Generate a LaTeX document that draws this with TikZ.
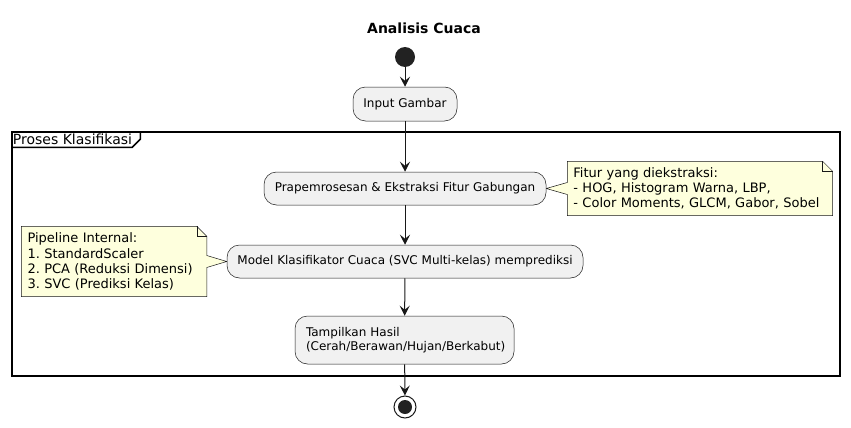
\documentclass[tikz,border=0pt]{standalone}
\usepackage{fontspec}
\setmainfont{DejaVu Sans}
\usepackage{tikz}
\usetikzlibrary{backgrounds}
\usetikzlibrary{arrows.meta}
\usetikzlibrary{positioning}
\definecolor{actfill}{HTML}{F1F1F1}
\definecolor{linecol}{HTML}{181818}
\definecolor{notefill}{HTML}{FEFFDD}
\definecolor{dotcol}{HTML}{222222}
\frenchspacing

\begin{document}
\begin{tikzpicture}[x=1pt, y=-1pt,
    act/.style={draw=linecol, line width=0.5pt, fill=actfill, rounded corners=12.5pt, inner sep=0pt, font=\fontsize{12}{14}\selectfont},
    notetext/.style={inner xsep=6pt, inner ysep=0pt, align=left, font=\fontsize{13}{15.1}\selectfont},
    notefrm/.style={draw=linecol, line width=0.5pt, fill=notefill},
    flow/.style={draw=linecol, line width=1pt, -{Stealth[length=10pt, width=10pt, inset=4pt]}}]

    \useasboundingbox (0,0) rectangle (851,428);

    \node [font=\fontsize{14}{16}\selectfont\bfseries] (title) at (424,28) {Analisis Cuaca};

    \node [draw, line width=1.5pt, minimum width=828pt, minimum height=244pt] (grp) at (426,254) {};
    \draw [line width=1.5pt] ([yshift=-16pt]grp.north west) -- ++(121,0) -- ++(8,-8) -- ++(0,-8);
    \node [anchor=west, inner sep=1.5pt, font=\fontsize{14}{16}\selectfont] (grplabel) at ([yshift=-8.5pt]grp.north west) {Proses Klasifikasi};

    \node [circle, fill=dotcol, minimum size=20pt, inner sep=0pt] (start) at (405,57) {};
    \node [act, minimum width=104pt, minimum height=34pt] (input) at (405,104) {Input Gambar};
    \node [act, minimum width=282pt, minimum height=33pt] (prep) at (405,188.5) {Prapemrosesan \& Ekstraksi Fitur Gabungan};
    \node [act, minimum width=356pt, minimum height=33pt] (model) at (405,261.5) {Model Klasifikator Cuaca (SVC Multi-kelas) memprediksi};
    \node [act, minimum width=219pt, minimum height=48pt, inner xsep=11pt, text width=197pt, align=left] (hasil) at (404.5,340) {Tampilkan Hasil\\(Cerah/Berawan/Hujan/Berkabut)};
    \node [circle, draw=linecol, line width=1pt, minimum size=22pt, inner sep=0pt] (stop) at (405,407) {};
    \node [circle, fill=dotcol, minimum size=14pt, inner sep=0pt] (stopdot) at (stop) {};

    \node [notetext, text width=253pt, minimum height=54pt, right=21pt of prep] (fitur) {Fitur yang diekstraksi:\\- HOG, Histogram Warna, LBP,\\- Color Moments, GLCM, Gabor, Sobel};
    \node [notetext, text width=173pt, minimum height=70pt, left=20pt of model] (pipa) {Pipeline Internal:\\1. StandardScaler\\2. PCA (Reduksi Dimensi)\\3. SVC (Prediksi Kelas)};

    \begin{scope}[on background layer]
        \draw [notefrm] (fitur.north west) -- ([xshift=-10pt]fitur.north east) -- ([yshift=-10pt]fitur.north east) -- (fitur.south east) -- (fitur.south west) -- ([yshift=-6pt]fitur.west) -- (prep.east) -- ([yshift=6pt]fitur.west) -- cycle;
        \draw [notefrm, fill=none] ([xshift=-10pt]fitur.north east) -- ++(0,10) -- ++(10,0);
        \draw [notefrm] (pipa.north west) -- ([xshift=-10pt]pipa.north east) -- ([yshift=-10pt]pipa.north east) -- ([yshift=6pt]pipa.east) -- (model.west) -- ([yshift=-6pt]pipa.east) -- (pipa.south east) -- (pipa.south west) -- cycle;
        \draw [notefrm, fill=none] ([xshift=-10pt]pipa.north east) -- ++(0,10) -- ++(10,0);
    \end{scope}

    \draw [flow] (start) -- (input);
    \draw [flow] (input) -- (prep);
    \draw [flow] (prep) -- (model);
    \draw [flow] (model) -- (hasil);
    \draw [flow] (hasil) -- (stop);
\end{tikzpicture}
\end{document}
